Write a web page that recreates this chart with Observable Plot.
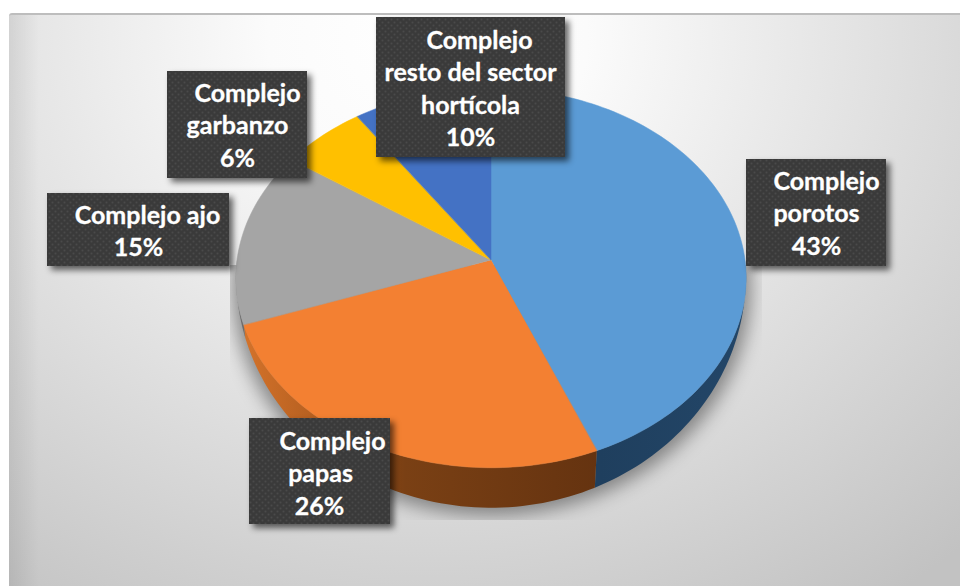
<!DOCTYPE html>
<html>
<head>
<meta charset="utf-8">
<script src="https://cdn.jsdelivr.net/npm/d3@7"></script>
<script src="https://cdn.jsdelivr.net/npm/@observablehq/plot@0.6"></script>
<style>
html,body{margin:0;padding:0;background:#fff}
svg{display:block}
#bg{position:absolute;left:9px;top:13px;width:951px;height:573px;box-sizing:border-box;border-top:2px solid #bdbdbd;border-top-left-radius:3px;
background:linear-gradient(90deg,rgba(0,0,0,.08) 0,rgba(0,0,0,0) 30px),radial-gradient(ellipse 84% 120% at 44% 4%,#ffffff 0%,#fbfbfb 20%,#e2e2e2 55%,#c2c2c2 100%)}
#chart{position:absolute;left:0;top:0}
</style>
</head>
<body>
<div id="bg"></div>
<div id="chart"></div>
<script>
// Data
const categories = ["Complejo porotos","Complejo papas","Complejo ajo","Complejo garbanzo","Complejo resto del sector hortícola"];
const shares = [43.8, 25.8, 14.9, 5.9, 9.6];
const pctLabels = ["43%","26%","15%","6%","10%"];
const topColors = ["#5b9bd5","#f38032","#a5a5a5","#ffc000","#4472c4"];
const sideColors = ["url(#sideBlue)","url(#sideOrange)","#6b6b6b","#8a6c00","#27426f"];
const labelLines = [
  ["Complejo","porotos"],
  ["Complejo","papas"],
  ["Complejo ajo"],
  ["Complejo","garbanzo"],
  ["Complejo","resto del sector","hortícola"]
];

// Layout
const W = 960, H = 586;
const pie = {cx: 491, cy: 260, a: 254, b: 188, k: -0.095};
const boxes = [
  {x1:746,x2:886,y1:159,y2:266, lineX:[826,816], pctX:816, y0:181},
  {x1:249,x2:390,y1:418,y2:524, lineX:[332,320], pctX:319, y0:441},
  {x1:47, x2:229,y1:193,y2:266, lineX:[147],     pctX:138, y0:215},
  {x1:167,x2:307,y1:71, y2:178, lineX:[247,237], pctX:237, y0:93},
  {x1:376,x2:565,y1:17, y2:157, lineX:[479,470,470], pctX:470, y0:40}
];
const lineStep = 32.6;

// Perspective projection of the unit disc, with drop for the lower rim
function rim(t, lower) {
  const u = Math.sin(t), v = -Math.cos(t), w = 1 + pie.k * v;
  const x = pie.cx + pie.a * u / w, y = pie.cy + pie.b * v / w;
  if (!lower) return [x, y];
  const f = Math.max(0, v);
  return [pie.cx + (x - pie.cx) * (1 - 0.02 * f), y + 40 * f];
}

const pieArcs = d3.pairs(d3.cumsum([0, ...shares])).map(([s, e], i) => ({i, start: s / 100 * 2 * Math.PI, end: e / 100 * 2 * Math.PI}));
const topPts = [], sidePts = [], floorPts = [];
for (const arc of pieArcs) {
  const n = Math.max(8, Math.ceil((arc.end - arc.start) * 40));
  for (const t of d3.range(n + 1).map(j => arc.start + (arc.end - arc.start) * j / n)) {
    const [x2, y2] = rim(t, false), [lx, ly] = rim(t, true);
    topPts.push({i: arc.i, x2, y2});
    sidePts.push({i: arc.i, x2, y2, lx, ly});
    floorPts.push({i: arc.i, x: pie.cx + (lx - pie.cx) * 1.02, y: ly + 7});
  }
}

const blur = (px, clip) => (index, scales, values, dims, ctx, next) => {
  const g = next(index, scales, values, dims, ctx);
  g.style.filter = `blur(${px}px)`;
  if (!clip) return g;
  const wrap = d3.create("svg:g").attr("clip-path", clip);
  wrap.node().appendChild(g);
  return wrap.node();
};

const defs = () => {
  const s = d3.create("svg:defs");
  const p = s.append("pattern").attr("id","dots").attr("patternUnits","userSpaceOnUse").attr("width",6).attr("height",6);
  p.append("rect").attr("width",6).attr("height",6).attr("fill","#3a3a3a");
  p.append("circle").attr("cx",1.5).attr("cy",1.5).attr("r",1).attr("fill","#4a4a4a");
  p.append("circle").attr("cx",4.5).attr("cy",4.5).attr("r",1).attr("fill","#4a4a4a");
  const lg = (id, x1, x2, stops) => {
    const g = s.append("linearGradient").attr("id",id).attr("gradientUnits","userSpaceOnUse")
      .attr("x1",x1).attr("x2",x2).attr("y1",0).attr("y2",0);
    stops.forEach(([o,c]) => g.append("stop").attr("offset",o).attr("stop-color",c));
  };
  lg("sideOrange",245,600,[[0,"#d3722a"],[0.2,"#b55f20"],[0.45,"#7a4014"],[1,"#653310"]]);
  lg("sideBlue",600,746,[[0,"#1f3f5e"],[1,"#234668"]]);
  s.append("clipPath").attr("id","pieClip").append("rect").attr("x",230).attr("y",265).attr("width",532).attr("height",255);
  return s.node();
};

const textRows = boxes.flatMap((b, i) => [
  ...labelLines[i].map((t, j) => ({t, x: b.lineX[j], y: b.y0 + j * lineStep})),
  {t: pctLabels[i], x: b.pctX, y: b.y0 + labelLines[i].length * lineStep}
]);

const plot = Plot.plot({
  width: W, height: H,
  margin: 0,
  x: {domain: [0, W], range: [0, W], axis: null},
  y: {domain: [0, H], range: [0, H], axis: null},
  style: {background: "transparent"},
  marks: [
    defs,
    // soft shadow of the pie
    Plot.line(floorPts, {x: "x", y: "y", fill: "#000", fillOpacity: 0.4, stroke: "none", render: blur(9, "url(#pieClip)")}),
    // sides
    Plot.area(sidePts, {x1: "x2", y1: "y2", x2: "lx", y2: "ly", z: "i", fill: d => sideColors[d.i]}),
    // top faces
    Plot.area(topPts, {x1: () => pie.cx, y1: () => pie.cy, x2: "x2", y2: "y2", z: "i", fill: d => topColors[d.i], stroke: d => topColors[d.i], strokeWidth: 0.5}),
    // label boxes
    Plot.rect(boxes, {x1: d => d.x1 + 4, x2: d => d.x2 + 4, y1: d => d.y1 + 4, y2: d => d.y2 + 4, fill: "#000", fillOpacity: 0.6, render: blur(3)}),
    Plot.rect(boxes, {x1: "x1", x2: "x2", y1: "y1", y2: "y2", fill: "url(#dots)"}),
    Plot.text(textRows, {x: "x", y: "y", text: "t", fill: "#fff", stroke: "#fff", strokeWidth: 0.3, fontFamily: "Lato", fontWeight: 700, fontSize: 25})
  ]
});
document.getElementById("chart").appendChild(plot);
</script>
</body>
</html>
